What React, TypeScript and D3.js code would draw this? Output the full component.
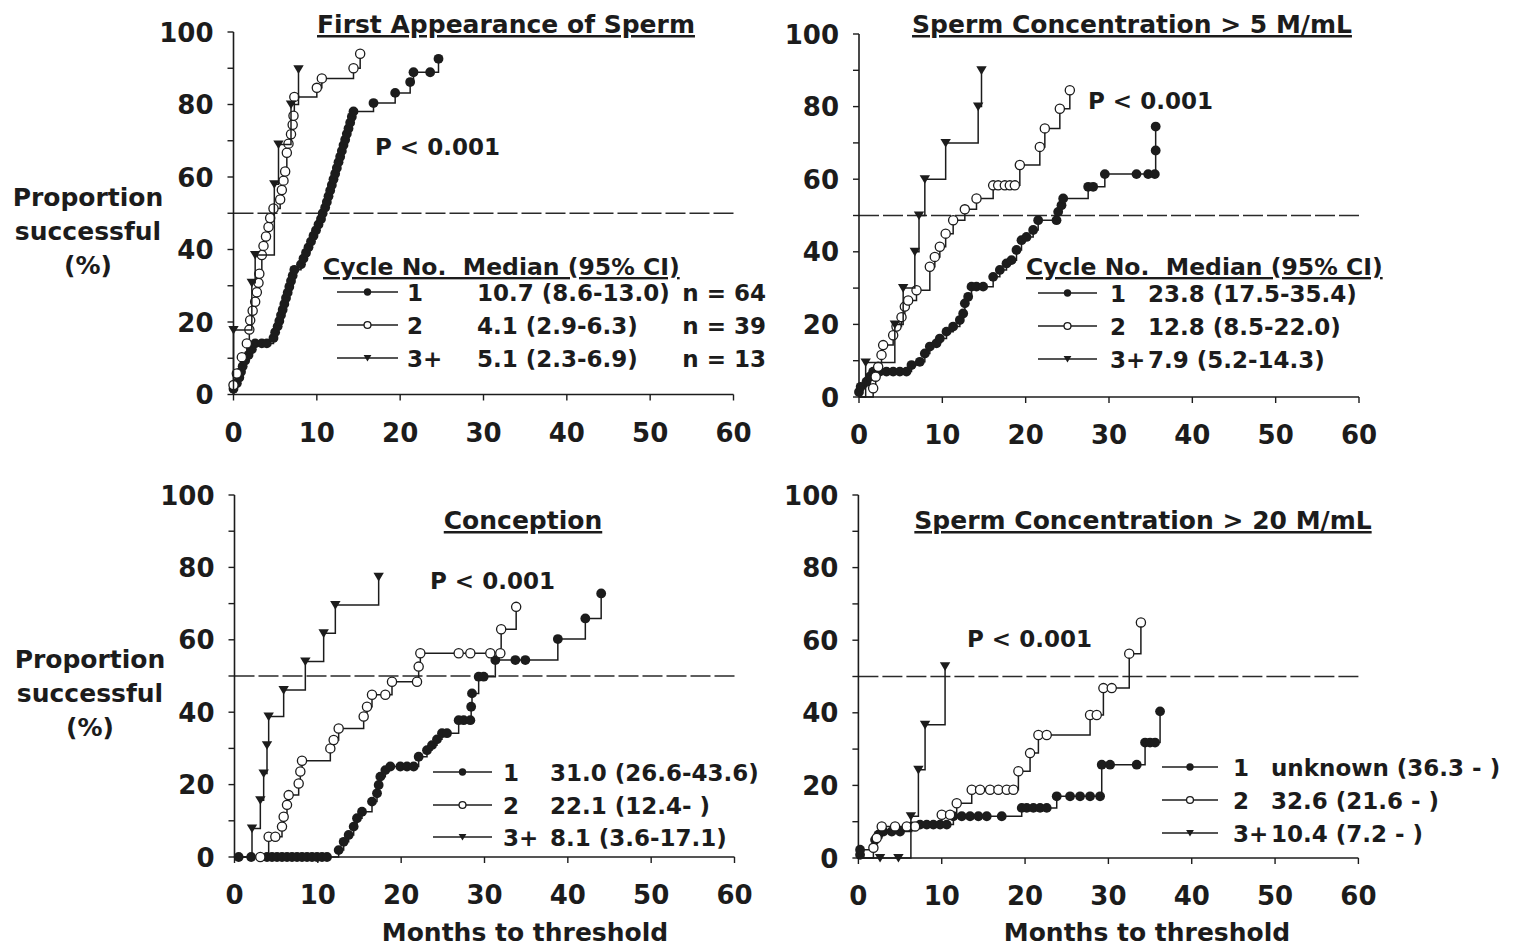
import React from "react";
import * as d3 from "d3";

type Pt = [number, number];

// ---------- Data (months, % successful) ----------
// Panel A: First Appearance of Sperm
const FAS_C1: Pt[] = [
  [0, 1.6], [0.4, 3.1], [0.7, 4.7], [0.9, 6.3], [1.1, 7.8], [1.4, 9.4], [1.8, 10.9], [2.2, 12.5],
  [2.6, 14.1], [3.4, 14.1], [4.0, 14.1], [4.8, 15.6], [5.0, 17.2], [5.3, 18.8], [5.5, 20.3],
  [5.7, 21.9], [5.9, 23.4], [6.1, 25.0], [6.3, 26.6], [6.5, 28.1], [6.7, 29.7], [6.9, 31.3],
  [7.1, 32.8], [7.3, 34.4], [8.1, 35.9], [8.4, 37.5], [8.7, 39.1], [9.0, 40.6], [9.3, 42.2],
  [9.6, 43.8], [9.9, 45.3], [10.2, 46.9], [10.5, 48.4], [10.7, 50.0], [11.0, 51.6], [11.2, 53.1],
  [11.4, 54.7], [11.6, 56.3], [11.8, 57.8], [12.0, 59.4], [12.2, 60.9], [12.4, 62.5], [12.6, 64.1],
  [12.8, 65.6], [13.0, 67.2], [13.2, 68.8], [13.4, 70.3], [13.6, 71.9], [13.8, 73.4], [14.0, 75.0],
  [14.2, 76.6], [14.4, 78.1], [16.8, 80.4], [19.4, 83.2], [21.2, 86.2], [21.6, 88.9], [23.6, 88.9],
  [24.6, 92.6],
];
const FAS_C2: Pt[] = [
  [0, 2.6], [0.4, 5.8], [1.0, 10.3], [1.6, 14.1], [1.9, 17.9], [2.0, 20.5], [2.3, 23.1], [2.6, 25.6],
  [2.8, 28.2], [3.0, 30.8], [3.1, 33.3], [3.4, 38.5], [3.6, 41.0], [3.9, 43.6], [4.2, 46.2],
  [4.4, 48.7], [4.8, 51.3], [5.6, 53.8], [5.8, 56.4], [6.0, 59.0], [6.2, 61.5], [6.4, 66.7],
  [6.6, 69.2], [6.9, 71.8], [7.1, 74.4], [7.2, 76.9], [7.3, 82.1], [10.0, 84.6], [10.6, 87.2],
  [14.4, 90.0], [15.2, 94.0],
];
const FAS_C3: Pt[] = [
  [0, 17.8], [2.2, 30.8], [2.6, 38.5], [4.9, 58.0], [5.4, 69.0], [6.9, 80.0], [7.8, 89.7],
];

// Panel B: Sperm Concentration > 5 M/mL
const C5_C1: Pt[] = [
  [0, 1.4], [0.2, 2.8], [0.9, 4.2], [1.3, 5.6], [1.7, 7.0], [2.5, 7.0], [3.3, 7.0], [4.1, 7.0],
  [4.9, 7.0], [5.7, 7.0], [6.3, 8.8], [7.3, 9.7], [7.9, 12.0], [8.5, 13.9], [9.3, 14.8], [9.7, 16.1],
  [10.5, 18.0], [11.3, 19.4], [12.1, 21.2], [12.5, 23.0], [12.7, 25.8], [13.1, 27.6], [13.5, 30.4],
  [14.1, 30.4], [14.9, 30.4], [16.1, 33.1], [16.9, 35.0], [17.7, 36.8], [18.3, 37.7], [18.9, 40.5],
  [19.5, 43.2], [20.1, 44.1], [20.9, 46.0], [21.5, 48.7], [23.7, 48.7], [23.9, 51.0], [24.3, 52.8],
  [24.5, 54.7], [27.5, 57.9], [28.1, 57.9], [29.5, 61.4], [33.3, 61.4], [34.7, 61.4], [35.5, 61.4],
  [35.6, 67.9], [35.6, 74.5],
];
const C5_C2: Pt[] = [
  [1.7, 2.4], [2.0, 5.6], [2.3, 8.3], [2.7, 11.6], [2.9, 14.3], [4.1, 17.0], [4.5, 19.4], [5.1, 22.0],
  [5.5, 24.9], [5.9, 26.6], [6.9, 29.4], [8.5, 35.9], [9.1, 38.6], [9.7, 41.4], [10.4, 45.0],
  [11.3, 48.7], [12.7, 51.7], [14.1, 54.7], [16.1, 58.3], [16.7, 58.3], [17.5, 58.3], [18.1, 58.3],
  [18.7, 58.3], [19.3, 63.9], [21.7, 68.9], [22.3, 74.0], [24.1, 79.4], [25.3, 84.5],
];
const C5_C3: Pt[] = [
  [0.8, 9.5], [4.3, 20], [5.3, 30], [6.7, 40], [7.2, 50], [7.9, 60], [10.4, 70], [14.3, 80], [14.7, 90],
];

// Panel C: Conception
const CON_C1: Pt[] = [
  [0.5, 0], [2.0, 0], [3.9, 0], [4.5, 0], [5.1, 0], [5.7, 0], [6.3, 0], [6.9, 0], [7.5, 0], [8.1, 0],
  [8.7, 0], [9.3, 0], [9.9, 0], [10.5, 0], [11.1, 0], [12.5, 1.9], [13.1, 4.2], [13.7, 6.1],
  [14.3, 8.4], [14.7, 10.7], [15.3, 12.5], [16.5, 15.3], [17.1, 17.6], [17.3, 19.9], [17.5, 22.2],
  [18.1, 24.0], [18.7, 25.0], [19.9, 25.0], [20.7, 25.0], [21.5, 25.0], [22.1, 27.7], [23.1, 29.5],
  [23.7, 30.9], [24.3, 32.5], [24.9, 34.2], [25.5, 34.2], [26.9, 37.8], [27.5, 37.8], [28.3, 37.8],
  [28.4, 41.5], [28.5, 45.2], [29.3, 49.8], [29.9, 49.8], [31.3, 54.4], [33.7, 54.4], [34.9, 54.4],
  [38.8, 60.2], [42.1, 65.9], [44.0, 72.8],
];
const CON_C2: Pt[] = [
  [3.1, 0], [4.1, 5.6], [4.9, 5.6], [5.7, 8.4], [5.9, 11.1], [6.3, 14.4], [6.5, 17.1], [7.7, 20.3],
  [7.9, 23.6], [8.1, 26.6], [11.5, 30.0], [11.9, 32.3], [12.5, 35.5], [15.5, 38.8], [15.9, 41.5],
  [16.5, 44.8], [18.1, 44.8], [18.9, 48.4], [21.9, 48.4], [22.1, 52.6], [22.3, 56.3], [26.9, 56.3],
  [28.3, 56.3], [30.7, 56.3], [31.9, 56.3], [32.0, 62.9], [33.8, 69.1],
];
const CON_C3: Pt[] = [
  [2.1, 7.9], [3.1, 15.7], [3.5, 23.1], [3.9, 30.9], [4.1, 38.8], [5.9, 46.1], [8.5, 54.0],
  [10.7, 61.8], [12.1, 69.6], [17.3, 77.4],
];

// Panel D: Sperm Concentration > 20 M/mL
const C20_C1: Pt[] = [
  [0.2, 0.9], [0.2, 2.3], [2.0, 5.0], [2.4, 6.4], [3.0, 7.3], [4.0, 7.3], [5.0, 7.3], [6.4, 8.7],
  [7.4, 9.2], [8.2, 9.2], [9.0, 9.2], [9.8, 9.2], [10.6, 9.2], [11.4, 11.5], [12.4, 11.5],
  [13.4, 11.5], [14.4, 11.5], [15.4, 11.5], [17.2, 11.5], [19.6, 13.8], [20.2, 13.8], [21.0, 13.8],
  [21.8, 13.8], [22.6, 13.8], [23.8, 17.0], [25.4, 17.0], [26.6, 17.0], [27.8, 17.0], [29.0, 17.0],
  [29.2, 25.7], [30.2, 25.7], [33.4, 25.7], [34.4, 31.8], [35.0, 31.8], [35.6, 31.8], [36.2, 40.4],
];
const C20_C2: Pt[] = [
  [1.8, 2.8], [2.2, 5.5], [2.8, 8.7], [4.4, 8.7], [5.8, 8.7], [6.8, 8.7], [10.0, 11.9], [11.0, 11.9],
  [11.8, 15.1], [13.6, 18.8], [14.6, 18.8], [15.8, 18.8], [16.8, 18.8], [17.8, 18.8], [18.6, 18.8],
  [19.2, 23.9], [20.6, 28.9], [21.6, 33.9], [22.6, 33.9], [27.8, 39.4], [28.6, 39.4], [29.4, 46.8],
  [30.4, 46.8], [32.5, 56.3], [33.9, 64.9],
];
const C20_C3: Pt[] = [
  [2.6, 0], [4.8, 0], [6.3, 11.5], [7.2, 24.3], [8.0, 36.7], [10.4, 52.8],
];

const X_TICKS = [0, 10, 20, 30, 40, 50, 60];
const Y_LABEL_TICKS = [0, 20, 40, 60, 80, 100];
const Y_MINOR_TICKS = [0, 10, 20, 30, 40, 50, 60, 70, 80, 90, 100];
const MEDIAN_LINE = 50;

const TITLES = [
  "First Appearance of Sperm",
  "Sperm Concentration > 5 M/mL",
  "Conception",
  "Sperm Concentration > 20 M/mL",
];
const P_TEXT = "P < 0.001";
const LEGEND_HEADER = "Cycle No.  Median (95% CI)";
const CYCLE_LABELS = ["1", "2", "3+"];
const FAS_MEDIANS = ["10.7 (8.6-13.0)", "4.1 (2.9-6.3)", "5.1 (2.3-6.9)"];
const FAS_N = ["n = 64", "n = 39", "n = 13"];
const C5_MEDIANS = ["23.8 (17.5-35.4)", "12.8 (8.5-22.0)", "7.9 (5.2-14.3)"];
const CON_MEDIANS = ["31.0 (26.6-43.6)", "22.1 (12.4- )", "8.1 (3.6-17.1)"];
const C20_MEDIANS = ["unknown (36.3 - )", "32.6 (21.6 - )", "10.4 (7.2 - )"];
const Y_TITLE = ["Proportion", "successful", "(%)"];
const X_TITLE = "Months to threshold";

// ---------- Layout ----------
const FONT = "'DejaVu Sans', Verdana, sans-serif";
const INK = "#1c1c1c";

type Legend = {
  header?: { x: number; y: number };
  lineX1: number; lineX2: number; labelX: number; medX: number; nX?: number;
  rows: number[]; medians: string[]; ns?: string[];
};
type Panel = {
  x0: number; y0: number; y100: number; series: Pt[][];
  title: string; titleX: number; titleY: number; pX: number; pY: number;
  legend: Legend; yTitle?: { x: number; ys: number[] }; xTitle?: { x: number; y: number };
};

const PANELS: Panel[] = [
  {
    x0: 233.5, y0: 394.5, y100: 32, series: [FAS_C1, FAS_C2, FAS_C3],
    title: TITLES[0], titleX: 506, titleY: 33, pX: 375, pY: 155,
    legend: { header: { x: 323, y: 275 }, lineX1: 337, lineX2: 398, labelX: 407, medX: 477, nX: 766,
      rows: [301, 334, 367], medians: FAS_MEDIANS, ns: FAS_N },
    yTitle: { x: 88, ys: [206, 240, 274] },
  },
  {
    x0: 859, y0: 397, y100: 34, series: [C5_C1, C5_C2, C5_C3],
    title: TITLES[1], titleX: 1132, titleY: 33, pX: 1088, pY: 109,
    legend: { header: { x: 1026, y: 275 }, lineX1: 1038, lineX2: 1097, labelX: 1110, medX: 1148,
      rows: [302, 335, 368], medians: C5_MEDIANS },
  },
  {
    x0: 234.5, y0: 857, y100: 495, series: [CON_C1, CON_C2, CON_C3],
    title: TITLES[2], titleX: 523, titleY: 529, pX: 430, pY: 589,
    legend: { lineX1: 433, lineX2: 492, labelX: 503, medX: 550, rows: [781, 814, 846], medians: CON_MEDIANS },
    yTitle: { x: 90, ys: [668, 702, 736] },
    xTitle: { x: 525, y: 941 },
  },
  {
    x0: 858.4, y0: 858, y100: 495, series: [C20_C1, C20_C2, C20_C3],
    title: TITLES[3], titleX: 1143, titleY: 529, pX: 967, pY: 647,
    legend: { lineX1: 1162, lineX2: 1218, labelX: 1233, medX: 1271, rows: [776, 809, 842], medians: C20_MEDIANS },
    xTitle: { x: 1147, y: 941 },
  },
];

const PX_PER_MONTH = 500 / 60;

function Marker({ kind, x, y, s = 1 }: { kind: number; x: number; y: number; s?: number }) {
  if (kind === 0) return <circle cx={x} cy={y} r={4.9 * s} fill={INK} />;
  if (kind === 1)
    return <circle cx={x} cy={y} r={4.6 * s} fill="#fff" stroke={INK} strokeWidth={1.3} />;
  const w = 5.2 * s;
  return (
    <path
      d={`M${x - w},${y - 4 * s}L${x + w},${y - 4 * s}L${x},${y + 4.6 * s}Z`}
      fill={INK}
    />
  );
}

function T(props: any) {
  const { children, size = 25, ...rest } = props;
  return (
    <text fontFamily={FONT} fontWeight="bold" fontSize={size} fill={INK} {...rest}>
      {children}
    </text>
  );
}

function PanelView({ p }: { p: Panel }) {
  const xs = d3.scaleLinear().domain([0, 60]).range([p.x0, p.x0 + 60 * PX_PER_MONTH]);
  const ys = d3.scaleLinear().domain([0, 100]).range([p.y0, p.y100]);
  const line = d3
    .line<Pt>()
    .x((d) => xs(d[0]))
    .y((d) => ys(d[1]))
    .curve(d3.curveStepAfter);
  const L = p.legend;
  return (
    <g>
      <line
        x1={xs(0)} x2={xs(60)} y1={ys(MEDIAN_LINE)} y2={ys(MEDIAN_LINE)}
        stroke="#2a2a2a" strokeWidth={1.4} strokeDasharray="20,4"
      />
      <line x1={xs(0)} x2={xs(0)} y1={ys(0)} y2={ys(100)} stroke={INK} strokeWidth={1.6} />
      <line x1={xs(0)} x2={xs(60)} y1={ys(0)} y2={ys(0)} stroke={INK} strokeWidth={1.6} />
      {Y_MINOR_TICKS.map((v) => (
        <line key={"yt" + v} x1={xs(0) - 6} x2={xs(0)} y1={ys(v)} y2={ys(v)} stroke={INK} strokeWidth={1.4} />
      ))}
      {X_TICKS.map((v) => (
        <line key={"xt" + v} x1={xs(v)} x2={xs(v)} y1={ys(0)} y2={ys(0) + 6} stroke={INK} strokeWidth={1.4} />
      ))}
      {Y_LABEL_TICKS.map((v) => (
        <T key={"yl" + v} x={xs(0) - 20} y={ys(v) + 9.5} size={26} textAnchor="end">
          {String(v)}
        </T>
      ))}
      {X_TICKS.map((v) => (
        <T key={"xl" + v} x={xs(v)} y={ys(0) + 47} size={26} textAnchor="middle">
          {String(v)}
        </T>
      ))}
      {p.series.map((s, i) => (
        <g key={"s" + i}>
          <path d={line([[0, 0], ...s]) || ""} fill="none" stroke={INK} strokeWidth={1.5} />
          {s.map((d, j) => (
            <Marker key={j} kind={i} x={xs(d[0])} y={ys(d[1])} />
          ))}
        </g>
      ))}
      <T x={p.titleX} y={p.titleY} size={25} textAnchor="middle" textDecoration="underline">
        {p.title}
      </T>
      <T x={p.pX} y={p.pY} size={23}>
        {P_TEXT}
      </T>
      {L.header && (
        <T x={L.header.x} y={L.header.y} size={23.5} textDecoration="underline" style={{ whiteSpace: "pre" }}>
          {LEGEND_HEADER}
        </T>
      )}
      {L.rows.map((ry, i) => (
        <g key={"lg" + i}>
          <line x1={L.lineX1} x2={L.lineX2} y1={ry - 9} y2={ry - 9} stroke={INK} strokeWidth={1.5} />
          <Marker kind={i} x={(L.lineX1 + L.lineX2) / 2} y={ry - 9} s={0.75} />
          <T x={L.labelX} y={ry} size={23}>
            {CYCLE_LABELS[i]}
          </T>
          <T x={L.medX} y={ry} size={23}>
            {L.medians[i]}
          </T>
          {L.ns && L.nX !== undefined && (
            <T x={L.nX} y={ry} size={23} textAnchor="end">
              {L.ns[i]}
            </T>
          )}
        </g>
      ))}
      {p.yTitle &&
        Y_TITLE.map((t, i) => (
          <T key={"ytt" + i} x={p.yTitle!.x} y={p.yTitle!.ys[i]} size={25} textAnchor="middle">
            {t}
          </T>
        ))}
      {p.xTitle && (
        <T x={p.xTitle.x} y={p.xTitle.y} size={25} textAnchor="middle">
          {X_TITLE}
        </T>
      )}
    </g>
  );
}

export default function App() {
  return (
    <svg
      width={1514}
      height={947}
      viewBox="0 0 1514 947"
      style={{ position: "absolute", left: 0, top: 0, background: "#fff" }}
    >
      <rect x={0} y={0} width={1514} height={947} fill="#fff" />
      {PANELS.map((p, i) => (
        <PanelView key={i} p={p} />
      ))}
    </svg>
  );
}
